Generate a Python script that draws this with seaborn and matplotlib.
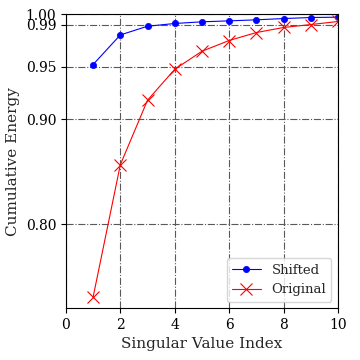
import numpy as np
import pandas as pd
import seaborn as sns
import matplotlib
matplotlib.use('Agg')
import matplotlib.pyplot as plt

# valores
indices = [1, 2, 3, 4, 5, 6, 7, 8, 9, 10]
shifted = [0.9519, 0.9801, 0.9884, 0.9910, 0.9926, 0.9935, 0.9945, 0.9957, 0.9967, 0.9970]
original = [0.7305, 0.8565, 0.9180, 0.9474, 0.9646, 0.9748, 0.9824, 0.9872, 0.9900, 0.9929]
yticks = [0.80, 0.90, 0.95, 0.99, 1.00]
xticks = [0, 2, 4, 6, 8, 10]

sns.set_style('ticks')
plt.rcParams['font.family'] = ['DejaVu Serif']

fig = plt.figure(figsize=(3.6, 3.6), dpi=100)
ax = fig.add_axes([0.183, 0.144, 0.756, 0.817])

sns.lineplot(x=indices, y=shifted, ax=ax, color='blue', marker='o', markersize=4.5,
             markeredgecolor='blue', markeredgewidth=0.5, linewidth=0.8, label='Shifted')
sns.lineplot(x=indices, y=original, ax=ax, color='red', marker='x', markersize=9,
             markeredgecolor='red', markeredgewidth=0.8, linewidth=0.8, label='Original')

ax.set_xlim(0, 10)
ax.set_ylim(0.72, 1.00)
ax.set_xticks(xticks)
ax.set_yticks(yticks)
ax.set_yticklabels([f'{v:.2f}' for v in yticks])
ax.tick_params(labelsize=10, colors='black')
ax.grid(True, linestyle='-.', color='0.35', linewidth=0.8)
for s in ax.spines.values():
    s.set_visible(True)
    s.set_color('black')

ax.set_xlabel('Singular Value Index', fontsize=11)
ax.set_ylabel('Cumulative Energy', fontsize=11)
ax.legend(loc='lower right', fontsize=9.5, handlelength=2.2)

fig.savefig('out.png', dpi=100)
